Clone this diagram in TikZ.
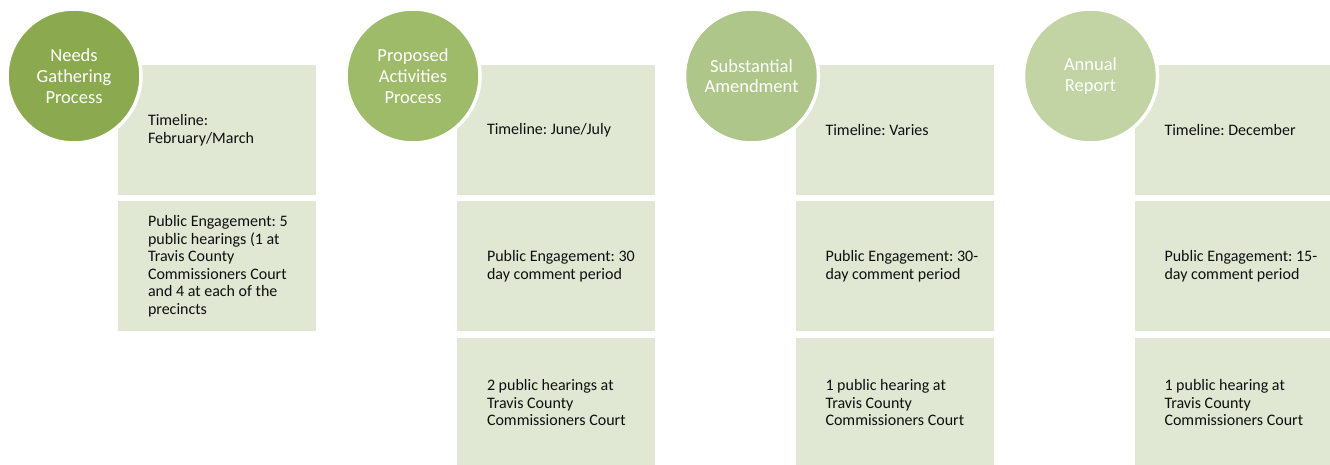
\documentclass[tikz,border=0pt]{standalone}
\usepackage{fontspec}
\setmainfont{Carlito}
\usetikzlibrary{positioning}
\definecolor{greena}{RGB}{139,170,80}
\definecolor{greenb}{RGB}{157,187,104}
\definecolor{greenc}{RGB}{175,198,138}
\definecolor{greend}{RGB}{194,212,164}
\definecolor{boxgreen}{RGB}{224,232,212}
\definecolor{darktext}{RGB}{15,15,15}
\frenchspacing

\begin{document}
\begin{tikzpicture}[x=1pt,y=-1pt,
  stage/.style={circle,minimum size=134pt,inner sep=0pt,draw=white,line width=3.5pt,
    text=white,align=center,font=\fontsize{18.5}{20.7}\selectfont},
  infobox/.style={rectangle,minimum width=198pt,minimum height=130pt,inner sep=0pt,fill=boxgreen},
  infotext/.style={anchor=west,align=left,inner sep=0pt,text=darktext,
    font=\fontsize{16}{17.5}\selectfont}]
  \useasboundingbox (0,0) rectangle (1330,464);

  \node[infobox] (needtime) at (217,130) {};
  \node[infobox,below=6pt of needtime] (needpub) {};
  \node[infotext] (needtimet) at ([xshift=30pt]needtime.west) {Timeline:\\February/March};
  \node[infotext] (needpubt) at ([xshift=30pt]needpub.west) {Public Engagement: 5\\public hearings (1 at\\Travis County\\Commissioners Court\\and 4 at each of the\\precincts};

  \node[infobox] (proptime) at (556,130) {};
  \node[infobox,below=6pt of proptime] (proppub) {};
  \node[infobox,below=6pt of proppub] (prophear) {};
  \node[infotext] (proptimet) at ([xshift=30pt]proptime.west) {Timeline: June/July};
  \node[infotext] (proppubt) at ([xshift=30pt]proppub.west) {Public Engagement: 30\\day comment period};
  \node[infotext] (prophleart) at ([xshift=30pt]prophear.west) {2 public hearings at\\Travis County\\Commissioners Court};

  \node[infobox] (subtime) at (894.5,130) {};
  \node[infobox,below=6pt of subtime] (subpub) {};
  \node[infobox,below=6pt of subpub] (subhear) {};
  \node[infotext] (subtimet) at ([xshift=30pt]subtime.west) {Timeline: Varies};
  \node[infotext] (subpubt) at ([xshift=30pt]subpub.west) {Public Engagement: 30-\\day comment period};
  \node[infotext] (subheart) at ([xshift=30pt]subhear.west) {1 public hearing at\\Travis County\\Commissioners Court};

  \node[infobox] (reptime) at (1233.5,130) {};
  \node[infobox,below=6pt of reptime] (reppub) {};
  \node[infobox,below=6pt of reppub] (rephear) {};
  \node[infotext] (reptimet) at ([xshift=30pt]reptime.west) {Timeline: December};
  \node[infotext] (reppubt) at ([xshift=30pt]reppub.west) {Public Engagement: 15-\\day comment period};
  \node[infotext] (repheart) at ([xshift=30pt]rephear.west) {1 public hearing at\\Travis County\\Commissioners Court};

  \node[stage,fill=greena] (needs) at (74,76) {Needs\\Gathering\\Process};
  \node[stage,fill=greenb] (proposed) at (413,76) {Proposed\\Activities\\Process};
  \node[stage,fill=greenc] (amend) at (751.5,76) {Substantial\\Amendment};
  \node[stage,fill=greend] (annual) at (1090.5,76) {Annual\\Report};
\end{tikzpicture}
\end{document}
